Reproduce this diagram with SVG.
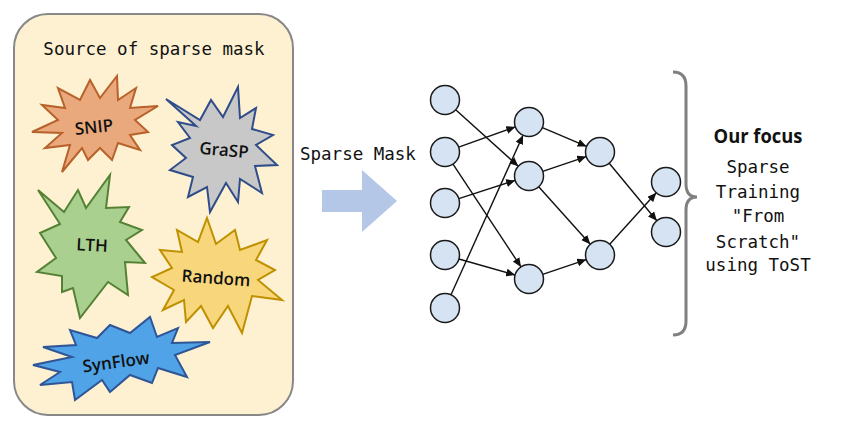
<svg xmlns="http://www.w3.org/2000/svg" width="864" height="432" viewBox="0 0 864 432">
<defs>
<style>
.mono{font-family:"DejaVu Sans Mono","Liberation Mono",monospace;font-size:17.5px;fill:#111}
.lbl{font-family:"Open Sans","Noto Sans",sans-serif;font-weight:600;font-size:17px;fill:#111;text-anchor:middle}
.nn{fill:#d6e3f3;stroke:#1a1a1a;stroke-width:1.5}
.edge{stroke:#111;stroke-width:1.4;fill:none;marker-end:url(#ah)}
.star{stroke-width:2;stroke-linejoin:miter}
</style>
<marker id="ah" markerUnits="userSpaceOnUse" markerWidth="10" markerHeight="8" refX="9" refY="4" orient="auto">
<path d="M0,0 L9,4 L0,8 z" fill="#111"/>
</marker>
</defs>
<rect width="864" height="432" fill="#ffffff"/>

<g id="source-box">
<rect x="14" y="14" width="279" height="401" rx="34" fill="#fdf1d1" stroke="#888" stroke-width="2"/>
<text class="mono" x="154" y="55" text-anchor="middle">Source of sparse mask</text>
</g>

<g id="snip">
<polygon class="star" fill="#eaa97d" stroke="#b8612a" points="117,76 118,100 136,88 130,108 158,106 135,120 148,132 130,135 140,150 118,143 112,160 100,148 88,160 82,148 62,172 70,145 45,148 62,133 32,132 58,120 42,105 65,108 58,88 80,100 90,80 100,98"/>
<text class="lbl" x="94" y="133" transform="rotate(-6 94 127)">SNIP</text>
</g>

<g id="grasp">
<polygon class="star" fill="#c8c8c8" stroke="#2f4d8a" points="166,99 200,120 211,100 223,117 238,87 240,118 256,108 252,129 273,135 256,145 277,165 255,166 262,193 240,179 238,202 226,183 210,212 207,187 188,197 193,177 170,170 186,158 172,145 190,138 178,122 196,126"/>
<text class="lbl" x="224" y="156" transform="rotate(5 224 150)">GraSP</text>
</g>

<g id="lth">
<polygon class="star" fill="#a9d08e" stroke="#548235" points="38,190 64,212 78,190 86,208 110,175 106,208 129,207 120,222 142,230 126,240 145,263 125,262 128,295 108,282 80,318 73,288 62,292 62,276 37,272 56,258 40,233 60,224"/>
<text class="lbl" x="92" y="251" transform="rotate(3 92 245)">LTH</text>
</g>

<g id="random">
<polygon class="star" fill="#f8d77c" stroke="#bf9000" points="207,218 216,244 235,230 240,250 267,240 256,260 275,270 258,280 282,300 252,296 242,333 228,306 213,328 201,306 186,322 184,300 163,310 174,290 152,277 172,268 160,250 182,252 177,230 198,242"/>
<text class="lbl" x="216" y="284" transform="rotate(4 216 278)">Random</text>
</g>

<g id="synflow">
<polygon class="star" fill="#4fa3e6" stroke="#2f5597" points="33,365 72,357 43,347 76,345 70,330 97,338 110,325 130,333 150,317 157,337 178,328 172,343 210,342 175,355 187,377 158,368 152,383 130,375 110,392 102,380 75,400 72,382 40,385 60,372"/>
<text class="lbl" x="116" y="368" transform="rotate(-8 116 362)">SynFlow</text>
</g>

<g id="sparse-mask-arrow">
<text class="mono" x="300" y="160">Sparse Mask</text>
<polygon points="322,190 362,190 362,170 397,201 362,232 362,212 322,212" fill="#b4c7e7"/>
</g>

<g id="connectors">
<line class="edge" x1="455.7" y1="109.7" x2="518.3" y2="166.3"/>
<line class="edge" x1="458.7" y1="147.1" x2="515.3" y2="126.9"/>
<line class="edge" x1="453" y1="164.1" x2="521" y2="266.9"/>
<line class="edge" x1="458.8" y1="198.6" x2="515.2" y2="180.4"/>
<line class="edge" x1="458.9" y1="259" x2="515.1" y2="275"/>
<line class="edge" x1="451" y1="294.8" x2="523" y2="135.2"/>
<line class="edge" x1="542.4" y1="127.6" x2="586.6" y2="146.4"/>
<line class="edge" x1="542.7" y1="171.4" x2="586.3" y2="156.6"/>
<line class="edge" x1="538.7" y1="186.8" x2="590.3" y2="244.2"/>
<line class="edge" x1="542.7" y1="274.4" x2="586.3" y2="259.6"/>
<line class="edge" x1="609.2" y1="163.2" x2="656.8" y2="220.8"/>
<line class="edge" x1="609.7" y1="244.2" x2="656.3" y2="192.8"/>
</g>

<g id="layer1">
<circle class="nn" cx="445" cy="100" r="14.5"/>
<circle class="nn" cx="445" cy="152" r="14.5"/>
<circle class="nn" cx="445" cy="203" r="14.5"/>
<circle class="nn" cx="445" cy="255" r="14.5"/>
<circle class="nn" cx="445" cy="308" r="14.5"/>
</g>
<g id="layer2">
<circle class="nn" cx="529" cy="122" r="14.5"/>
<circle class="nn" cx="529" cy="176" r="14.5"/>
<circle class="nn" cx="529" cy="279" r="14.5"/>
</g>
<g id="layer3">
<circle class="nn" cx="600" cy="152" r="14.5"/>
<circle class="nn" cx="600" cy="255" r="14.5"/>
</g>
<g id="layer4">
<circle class="nn" cx="666" cy="182" r="14.5"/>
<circle class="nn" cx="666" cy="232" r="14.5"/>
</g>

<g id="brace">
<path d="M673,72 Q686,72 686,86 L686,184 Q686,197 697,197 Q686,197 686,210 L686,321 Q686,335 673,335" fill="none" stroke="#808080" stroke-width="3"/>
</g>

<g id="focus-text">
<text x="758" y="143" text-anchor="middle" font-family="'Open Sans','Noto Sans',sans-serif" font-weight="700" font-size="19" fill="#111" textLength="89" lengthAdjust="spacingAndGlyphs">Our focus</text>
<text class="mono" x="758" y="173" text-anchor="middle">Sparse</text>
<text class="mono" x="758" y="198" text-anchor="middle">Training</text>
<text class="mono" x="758" y="222" text-anchor="middle">"From</text>
<text class="mono" x="758" y="248" text-anchor="middle">Scratch"</text>
<text class="mono" x="758" y="271" text-anchor="middle">using ToST</text>
</g>
</svg>
